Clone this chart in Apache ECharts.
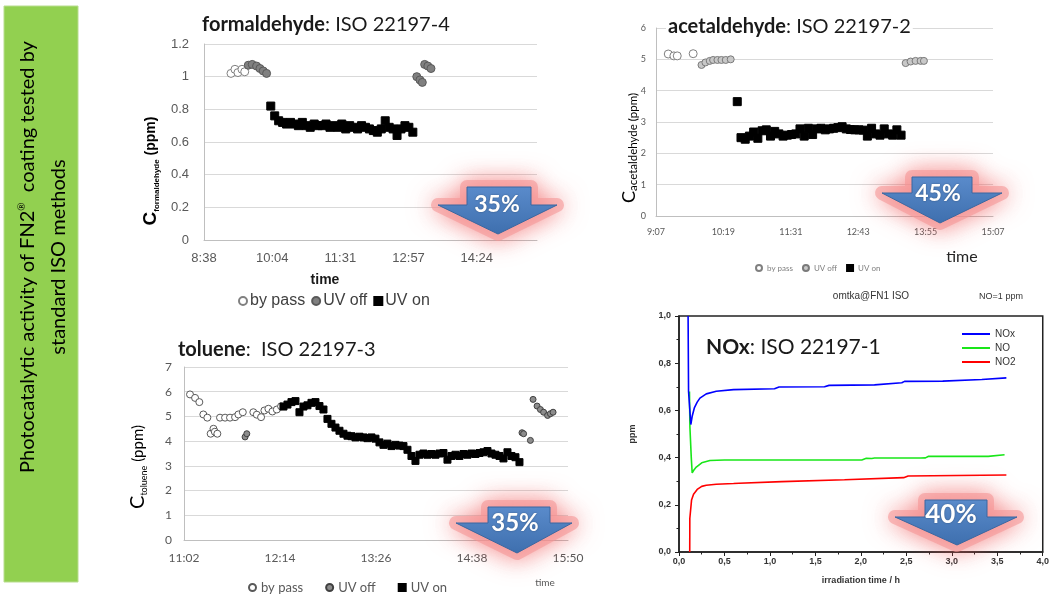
<!DOCTYPE html>
<html><head><meta charset="utf-8">
<script src="https://cdn.jsdelivr.net/npm/echarts@6/dist/echarts.min.js"></script>
<style>html,body{margin:0;padding:0;background:#fff}#c{width:1052px;height:596px}</style>
</head><body><div id="c"></div>
<script>
// ---------------- DATA (time in minutes since midnight, concentration in ppm) ----------------
const legendNames = ['by pass', 'UV off', 'UV on'];

const formBypass = [[552.6,1.02],[557.6,1.045],[561.4,1.025],[566.5,1.045],[570.0,1.03]];
const formUvOff = [[574.5,1.07],[579.5,1.075],[585.0,1.065],[589.3,1.05],[593.4,1.035],[597.7,1.02],
  [788,1.00],[792,0.98],[795,0.965],[798,1.075],[802,1.065],[806,1.05]];
const formUvOn = [[603,0.82],[608,0.76],[613,0.73],[618,0.72],[623,0.71],[628,0.72],[633,0.71],[638,0.70],
  [643,0.72],[648,0.70],[653,0.69],[658,0.71],[663,0.70],[668,0.70],[673,0.71],[678,0.69],[683,0.70],
  [688,0.69],[693,0.71],[698,0.68],[703,0.70],[708,0.69],[713,0.68],[718,0.70],[723,0.69],[728,0.68],
  [733,0.67],[738,0.66],[743,0.68],[748,0.73],[753,0.69],[758,0.68],[763,0.64],[768,0.68],[773,0.70],
  [778,0.69],[783,0.66]];

const acetBypass = [[560.3,5.17],[566.3,5.11],[569.9,5.11],[586.9,5.18]];
const acetUvOff = [[595.8,4.82],[600.0,4.90],[604.6,4.95],[608.2,4.98],[612.8,4.98],[617.1,4.98],[621.7,4.98],
  [627.0,5.00],[813.9,4.88],[819.2,4.93],[824.5,4.95],[829.9,4.95],[833.4,4.95]];
const acetUvOn = [[634,3.65],[638,2.50],[642.5,2.45],[647,2.55],[651.5,2.68],[656,2.48],[660.5,2.72],[665,2.75],
  [669.5,2.55],[674,2.70],[678.5,2.62],[683,2.55],[687.5,2.58],[692,2.60],[696.5,2.62],[701,2.78],
  [705.5,2.55],[710,2.80],[714.5,2.60],[719,2.78],[723.5,2.80],[728,2.75],[732.5,2.78],[737,2.80],
  [741.5,2.82],[746,2.85],[750.5,2.78],[755,2.76],[759.5,2.75],[764,2.75],[768.5,2.74],[773,2.55],
  [777.5,2.80],[782,2.62],[786.5,2.58],[791,2.78],[795.5,2.62],[800,2.58],[804.5,2.75],[809,2.58]];

const tolBypass = [[666.9,5.89],[670.7,5.75],[673.9,5.58],[676.9,5.08],[679.9,4.95],[682.4,4.30],[684.5,4.50],
  [685.5,4.38],[687.4,4.30],[689.4,4.95],[693.2,4.95],[696.9,4.95],[700.7,4.97],[703.2,5.08],[706.5,5.17],
  [714.4,5.17],[717.0,5.07],[720.2,4.97],[722.7,5.24],[725.7,5.31],[728.7,5.20],[732.0,5.28],[735.2,5.41]];
const tolUvOff = [[708.2,4.17],[709.5,4.30],[915.9,4.34],[917.1,4.30],[922.2,4.03],[924.2,5.69],[927.2,5.42],
  [929.7,5.28],[932.1,5.17],[935.1,5.04],[937.2,5.11],[939.2,5.17]];
const tolUvOn = [[737,5.40],[740,5.48],[743,5.58],[746,5.62],[749,5.17],[752,5.40],[755,5.45],[758,5.55],
  [761,5.58],[764,5.42],[767,5.28],[770,4.90],[773,4.70],[776,4.55],[779,4.42],[782,4.30],[785,4.22],
  [788,4.20],[791,4.15],[794,4.18],[797,4.15],[800,4.12],[803,4.15],[806,4.10],[809,3.95],[812,3.85],
  [815,3.90],[818,3.80],[821,3.85],[824,3.82],[827,3.80],[830,3.65],[833,3.40],[836,3.20],[839,3.45],
  [842,3.50],[845,3.45],[848,3.48],[851,3.45],[854,3.50],[857,3.52],[860,3.25],[863,3.40],[866,3.45],
  [869,3.40],[872,3.48],[875,3.45],[878,3.50],[881,3.48],[884,3.52],[887,3.55],[890,3.60],[893,3.50],
  [896,3.45],[899,3.40],[902,3.30],[905,3.55],[908,3.40],[911,3.35],[914,3.15]];

// NOx test: irradiation time (h) vs ppm
const noxNames = ['NOx', 'NO', 'NO2'];
const noxNOx = [[0.100,1.00],[0.105,0.68],[0.130,0.54],[0.145,0.575],[0.17,0.612],[0.20,0.635],[0.23,0.652],
  [0.30,0.670],[0.41,0.681],[0.60,0.688],[1.05,0.692],[1.10,0.699],[1.60,0.700],[1.65,0.706],[2.15,0.708],
  [2.17,0.716],[2.45,0.717],[2.48,0.723],[2.90,0.724],[2.92,0.730],[3.33,0.731],[3.35,0.737],[3.60,0.738]];
const noxNO = [[0.115,0.68],[0.120,0.53],[0.135,0.40],[0.145,0.335],[0.16,0.345],[0.19,0.360],[0.25,0.378],
  [0.34,0.388],[0.50,0.390],[1.97,0.390],[1.99,0.396],[2.01,0.390],[2.06,0.397],[2.08,0.391],[2.12,0.396],
  [2.15,0.398],[2.66,0.398],[2.68,0.406],[2.71,0.399],[2.74,0.405],[3.40,0.405],[3.42,0.412],[3.58,0.412]];
const noxNO2 = [[0.118,0.00],[0.119,0.142],[0.135,0.15],[0.138,0.22],[0.16,0.245],[0.20,0.265],[0.25,0.278],
  [0.30,0.283],[0.41,0.287],[0.60,0.290],[0.66,0.291],[0.67,0.297],[1.13,0.298],[1.14,0.304],[1.82,0.306],
  [1.83,0.312],[2.47,0.315],[2.48,0.322],[2.52,0.322],[2.53,0.314],[2.54,0.325],[3.60,0.326]];

// ---------------- helpers ----------------
const ARIAL = "'Liberation Sans', Arial, sans-serif";
const CAL = "Lato, 'Open Sans', sans-serif";
const DAYPART = 14.4; // minutes in 1/100 day (Excel time-axis unit)
const cd = arr => arr.map(p => [p[0] / DAYPART, p[1]]);
const hm = v => { const m = Math.floor(v * DAYPART + 1e-6); return Math.floor(m / 60) + ':' + String(m % 60).padStart(2, '0'); };
const comma = v => v.toFixed(1).replace('.', ',');
const strip = n => n.split('|')[1];

function timeAxis(gi, min, max, interval, fs, family, color, margin, showMax) {
  return { gridIndex: gi, type: 'value', min, max, interval,
    axisLine: { show: true, lineStyle: { color: '#bfbfbf' } }, axisTick: { show: false },
    splitLine: { show: false },
    axisLabel: { formatter: hm, fontSize: fs, fontFamily: family, color, margin, showMaxLabel: showMax } };
}
function ppmAxis(gi, max, interval, fs, family, color, margin) {
  return { gridIndex: gi, type: 'value', min: 0, max, interval,
    axisLine: { show: true, lineStyle: { color: '#bfbfbf' } }, axisTick: { show: false },
    splitLine: { show: true, lineStyle: { color: '#d9d9d9' } },
    axisLabel: { fontSize: fs, fontFamily: family, color, margin } };
}
function sc(prefix, idx, key, data, symbol, size, color, border) {
  return { type: 'scatter', name: prefix + '|' + legendNames[key], xAxisIndex: idx, yAxisIndex: idx,
    data: cd(data), symbol, symbolSize: size,
    itemStyle: { color, borderColor: border, borderWidth: 1, opacity: 1 }, z: 3 };
}
function arrow(sl, sr, top, base, hl, hr, tx, ty, label, fs, lx, ly) {
  const pts = [[sl, top], [sr, top], [sr, base], [hr, base], [tx, ty], [hl, base], [sl, base]];
  return [
    { type: 'polygon', z: 20, shape: { points: pts },
      style: { fill: 'rgba(245,150,150,0.7)', stroke: 'rgba(245,150,150,0.6)', lineWidth: 14, lineJoin: 'round',
               shadowBlur: 24, shadowColor: 'rgba(240,90,90,0.9)' } },
    { type: 'polygon', z: 21, shape: { points: pts },
      style: { fill: new echarts.graphic.LinearGradient(0, 0, 0, 1, [{ offset: 0, color: '#5a8bcb' }, { offset: 1, color: '#3e6fae' }]),
               stroke: '#3b67a0', lineWidth: 1 } },
    { type: 'text', z: 22, x: lx, y: ly,
      style: { text: label, fill: '#fff', font: 'bold ' + fs + 'px ' + CAL, align: 'center', verticalAlign: 'middle',
               textShadowColor: 'rgba(0,0,0,0.35)', textShadowBlur: 2 } }
  ];
}
function rotText(x, y, text, rich) {
  return { type: 'text', z: 5, x, y, rotation: Math.PI / 2,
    style: { text, rich, align: 'center', verticalAlign: 'middle' } };
}
function titleRich(size, lh) {
  return { b: { fontFamily: CAL, fontWeight: 'bold', fontSize: size, color: '#1a1a1a', lineHeight: lh },
           n: { fontFamily: CAL, fontWeight: 'normal', fontSize: size, color: '#1a1a1a', lineHeight: lh } };
}

const chart = echarts.init(document.getElementById('c'));
chart.setOption({
  animation: false,
  backgroundColor: '#fff',
  title: [
    { text: '{b|formaldehyde}{n|: ISO 22197-4}', left: 202, top: 13, padding: 0,
      textStyle: { fontWeight: 'normal', rich: titleRich(20, 24) } },
    { text: '{b|acetaldehyde}{n|: ISO 22197-2}', left: 666, top: 15, padding: [0, 2, 0, 2], backgroundColor: '#fff',
      textStyle: { fontWeight: 'normal', rich: titleRich(20, 24) } },
    { text: '{b|toluene}{n|:  ISO 22197-3}', left: 178, top: 338, padding: 0,
      textStyle: { fontWeight: 'normal', rich: titleRich(20, 24) } },
    { text: '{b|NOx}{n|: ISO 22197-1}', left: 706, top: 334, padding: 0,
      textStyle: { fontWeight: 'normal', rich: titleRich(21, 26) } }
  ],
  grid: [
    { left: 204, top: 44, width: 333, height: 196 },
    { left: 656, top: 28, width: 337, height: 188 },
    { left: 184, top: 367, width: 384, height: 173 },
    { left: 679, top: 316, width: 368, height: 236, show: true, borderColor: '#222', borderWidth: 1.5 }
  ],
  xAxis: [
    timeAxis(0, 36, 65.3, 6, 13, ARIAL, '#595959', 12, false),
    timeAxis(1, 38, 63, 5, 9, CAL, '#595959', 12, true),
    timeAxis(2, 46, 66, 5, 12, CAL, '#595959', 12, true),
    { gridIndex: 3, type: 'value', min: 0, max: 4, interval: 0.5,
      axisLine: { show: true, lineStyle: { color: '#222', width: 1.5 } },
      axisTick: { show: true, inside: false, length: 4, lineStyle: { color: '#222' } },
      minorTick: { show: true, splitNumber: 2, length: 2.5, lineStyle: { color: '#222' } },
      splitLine: { show: false },
      axisLabel: { formatter: comma, fontSize: 9, fontWeight: 'bold', fontFamily: ARIAL, color: '#333', margin: 5 },
      name: 'irradiation time / h', nameLocation: 'middle', nameGap: 24,
      nameTextStyle: { fontSize: 9, fontWeight: 'bold', fontFamily: ARIAL, color: '#333' } }
  ],
  yAxis: [
    ppmAxis(0, 1.2, 0.2, 13, ARIAL, '#595959', 15),
    ppmAxis(1, 6, 1, 9, CAL, '#595959', 10),
    ppmAxis(2, 7, 1, 12, CAL, '#595959', 12),
    { gridIndex: 3, type: 'value', min: 0, max: 1, interval: 0.2,
      axisLine: { show: true, lineStyle: { color: '#222', width: 1.5 } },
      axisTick: { show: true, inside: false, length: 4, lineStyle: { color: '#222' } },
      minorTick: { show: true, splitNumber: 2, length: 2.5, lineStyle: { color: '#222' } },
      splitLine: { show: false },
      axisLabel: { formatter: comma, fontSize: 9, fontWeight: 'bold', fontFamily: ARIAL, color: '#333', margin: 8 },
      name: 'ppm', nameLocation: 'middle', nameGap: 42, nameRotate: 90,
      nameTextStyle: { fontSize: 9, fontWeight: 'bold', fontFamily: ARIAL, color: '#333' } }
  ],
  legend: [
    { data: legendNames.map(n => 'F|' + n), formatter: strip, left: 238, top: 293, padding: 0,
      itemWidth: 8, itemHeight: 8, itemGap: 6, selectedMode: false,
      textStyle: { fontSize: 16, fontFamily: ARIAL, color: '#404040', padding: [0, 0, 0, -2] } },
    { data: legendNames.map(n => 'A|' + n), formatter: strip, left: 755, top: 264, padding: 0,
      itemWidth: 6, itemHeight: 6, itemGap: 9, selectedMode: false,
      textStyle: { fontSize: 8, fontFamily: CAL, color: '#7f7f7f' } },
    { data: legendNames.map(n => 'T|' + n), formatter: strip, left: 248, top: 581, padding: 0,
      itemWidth: 7, itemHeight: 7, itemGap: 22, selectedMode: false,
      textStyle: { fontSize: 13, fontFamily: CAL, color: '#595959' } },
    { data: noxNames.map(n => 'N|' + n), formatter: strip, left: 962, top: 328, padding: 0, orient: 'vertical',
      icon: 'rect', itemWidth: 28, itemHeight: 2, itemGap: 2, selectedMode: false,
      textStyle: { fontSize: 10, lineHeight: 12, fontFamily: ARIAL, color: '#333' } }
  ],
  series: [
    sc('F', 0, 0, formBypass, 'circle', 8, '#ffffff', '#808080'),
    sc('F', 0, 1, formUvOff, 'circle', 8, '#808080', '#595959'),
    sc('F', 0, 2, formUvOn, 'rect', 8, '#000000', '#000000'),
    sc('A', 1, 0, acetBypass, 'circle', 8, '#ffffff', '#808080'),
    sc('A', 1, 1, acetUvOff, 'circle', 7, '#c8c8c8', '#7a7a7a'),
    sc('A', 1, 2, acetUvOn, 'rect', 8, '#000000', '#000000'),
    sc('T', 2, 0, tolBypass, 'circle', 7, '#ffffff', '#595959'),
    sc('T', 2, 1, tolUvOff, 'circle', 6, '#8c8c8c', '#404040'),
    sc('T', 2, 2, tolUvOn, 'rect', 7, '#000000', '#000000'),
    { type: 'line', name: 'N|NOx', xAxisIndex: 3, yAxisIndex: 3, data: noxNOx, showSymbol: false,
      lineStyle: { color: '#0000ff', width: 1.6 }, itemStyle: { color: '#0000ff' }, z: 4 },
    { type: 'line', name: 'N|NO', xAxisIndex: 3, yAxisIndex: 3, data: noxNO, showSymbol: false,
      lineStyle: { color: '#19e619', width: 1.6 }, itemStyle: { color: '#19e619' }, z: 3 },
    { type: 'line', name: 'N|NO2', xAxisIndex: 3, yAxisIndex: 3, data: noxNO2, showSymbol: false,
      lineStyle: { color: '#ff0000', width: 1.6 }, itemStyle: { color: '#ff0000' }, z: 3 }
  ],
  graphic: [
    // left green panel
    { type: 'rect', z: 1, shape: { x: 4, y: 6, width: 74, height: 576 },
      style: { fill: '#92d050', stroke: '#b8dd8e', lineWidth: 1 } },
    { type: 'text', z: 2, x: 43, y: 257, rotation: Math.PI / 2,
      style: { text: '{a|Photocatalytic activity of FN2}{s|®}{a|  coating tested by}\n{a|standard ISO methods}',
               align: 'center', verticalAlign: 'middle',
               rich: { a: { fontFamily: CAL, fontSize: 20, color: '#1f1f1f', lineHeight: 31 },
                       s: { fontFamily: CAL, fontSize: 10, color: '#1f1f1f', lineHeight: 12, padding: [0, 0, 12, 0], verticalAlign: 'middle' } } } },
    // y-axis titles with subscripts
    rotText(151, 171, '{c|C}{s|formaldehyde}{p| (ppm)}', {
      c: { fontFamily: ARIAL, fontWeight: 'bold', fontSize: 19, color: '#262626', lineHeight: 20 },
      s: { fontFamily: ARIAL, fontWeight: 'bold', fontSize: 8, color: '#262626', lineHeight: 20, verticalAlign: 'bottom' },
      p: { fontFamily: ARIAL, fontWeight: 'bold', fontSize: 14, color: '#262626', lineHeight: 20 } }),
    rotText(629, 148, '{c|C}{s|acetaldehyde (ppm)}', {
      c: { fontFamily: CAL, fontSize: 18, color: '#404040', lineHeight: 20 },
      s: { fontFamily: CAL, fontSize: 11.5, color: '#404040', lineHeight: 20, verticalAlign: 'bottom' } }),
    rotText(138, 467, '{c|C}{s|toluene}{p| (ppm)}', {
      c: { fontFamily: CAL, fontSize: 20, color: '#404040', lineHeight: 22 },
      s: { fontFamily: CAL, fontSize: 9, color: '#404040', lineHeight: 22, verticalAlign: 'bottom' },
      p: { fontFamily: CAL, fontSize: 15, color: '#404040', lineHeight: 22 } }),
    // x-axis "time" titles
    { type: 'text', z: 5, x: 325, y: 280, style: { text: 'time', font: 'bold 14px ' + ARIAL, fill: '#1a1a1a', align: 'center', verticalAlign: 'middle' } },
    { type: 'text', z: 5, x: 962, y: 257, style: { text: 'time', font: '16px ' + CAL, fill: '#262626', align: 'center', verticalAlign: 'middle' } },
    { type: 'text', z: 5, x: 545, y: 583, style: { text: 'time', font: '10px ' + CAL, fill: '#595959', align: 'center', verticalAlign: 'middle' } },
    // NOx chart header texts
    { type: 'text', z: 5, x: 871, y: 296, style: { text: 'omtka@FN1 ISO', font: '10px ' + ARIAL, fill: '#333', align: 'center', verticalAlign: 'middle' } },
    { type: 'text', z: 5, x: 1001, y: 297, style: { text: 'NO=1 ppm', font: '9px ' + ARIAL, fill: '#333', align: 'center', verticalAlign: 'middle' } },
    // reduction arrows
    ...arrow(467, 531, 187, 205, 438, 557, 498, 234, '35%', 23, 497, 205),
    ...arrow(912, 972, 177, 193, 882, 1002, 940, 223, '45%', 23, 938, 194),
    ...arrow(488, 550, 507, 523, 456, 572, 517, 553, '35%', 24, 515, 523),
    ...arrow(925, 987, 500, 517, 895, 1017, 957, 545, '40%', 26, 951, 515)
  ]
});
</script>
</body></html>
